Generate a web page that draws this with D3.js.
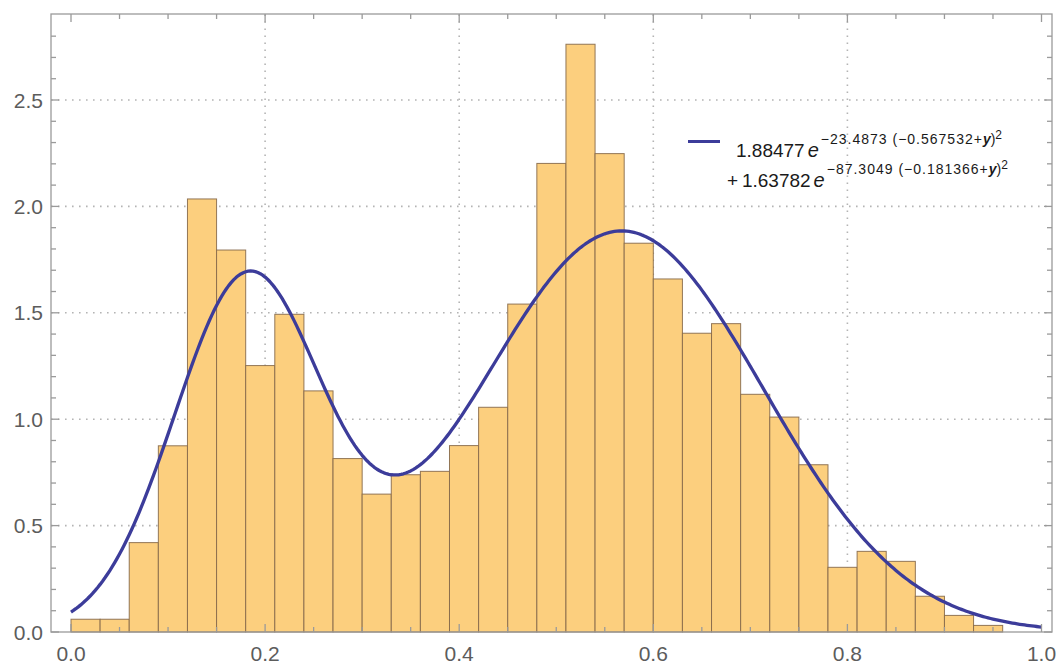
<!DOCTYPE html>
<html>
<head>
<meta charset="utf-8">
<script src="https://cdn.jsdelivr.net/npm/d3@7"></script>
<style>
  html, body { margin: 0; padding: 0; background: #fff; }
  svg { display: block; }
  text { font-family: "Liberation Sans", Arial, sans-serif; }
</style>
</head>
<body>
<svg id="chart" width="1062" height="669"></svg>
<script>
// Histogram bins (width 0.03, starting at 0) and their density heights
const binStart = 0;
const binWidth = 0.03;
const densities = [
  0.06, 0.06, 0.42, 0.875, 2.035, 1.795, 1.252, 1.493, 1.133, 0.815,
  0.648, 0.739, 0.755, 0.876, 1.056, 1.541, 2.202, 2.762, 2.248, 1.827,
  1.659, 1.404, 1.449, 1.117, 1.010, 0.786, 0.304, 0.379, 0.332, 0.168,
  0.078, 0.031
];

// Two-Gaussian fit: amplitude * exp(-rate * (y - center)^2)
const fitAmplitudes = [1.88477, 1.63782];
const fitRates = [23.4873, 87.3049];
const fitCenters = [0.567532, 0.181366];

// Axis ticks
const xMajorTicks = [0, 0.2, 0.4, 0.6, 0.8, 1.0];
const xTickLabels = ["0.0", "0.2", "0.4", "0.6", "0.8", "1.0"];
const yMajorTicks = [0, 0.5, 1.0, 1.5, 2.0, 2.5];
const yTickLabels = ["0.0", "0.5", "1.0", "1.5", "2.0", "2.5"];
const xGrid = [0.2, 0.4, 0.6, 0.8];
const yGrid = [0.5, 1.0, 1.5, 2.0, 2.5];

const svg = d3.select("#chart");

const frame = { left: 51, right: 1052, top: 14, bottom: 632 };
const x = d3.scaleLinear().domain([0, 1]).range([71, 1041.5]);
const y = d3.scaleLinear().domain([0, 2.5]).range([632, 100]);

const axisColor = "#9a9a9a";
const labelColor = "#5c5c5c";
const curveColor = "#3c3c9a";

// dotted grid, behind the bars
const grid = svg.append("g")
  .attr("stroke", "#b4b4b4")
  .attr("stroke-width", 1.6)
  .attr("stroke-dasharray", "1.6,5.4")
  .attr("stroke-linecap", "butt");
grid.selectAll("line.gx").data(xGrid).join("line")
  .attr("x1", d => x(d)).attr("x2", d => x(d))
  .attr("y1", frame.bottom).attr("y2", frame.top);
grid.selectAll("line.gy").data(yGrid).join("line")
  .attr("x1", frame.left).attr("x2", frame.right)
  .attr("y1", d => y(d)).attr("y2", d => y(d));

// histogram bars
const bins = densities.map((v, i) => ({
  x0: binStart + i * binWidth,
  x1: binStart + (i + 1) * binWidth,
  v
}));
svg.append("g").selectAll("rect").data(bins).join("rect")
  .attr("x", d => x(d.x0))
  .attr("width", d => x(d.x1) - x(d.x0))
  .attr("y", d => y(d.v))
  .attr("height", d => y(0) - y(d.v))
  .attr("fill", "#fccf7e")
  .attr("stroke", "#86694a")
  .attr("stroke-opacity", 0.9)
  .attr("stroke-width", 1);

// fitted curve
const fit = t => fitAmplitudes.reduce(
  (s, a, k) => s + a * Math.exp(-fitRates[k] * (t - fitCenters[k]) ** 2), 0);
const samples = d3.range(0, 1.0001, 0.0025);
const line = d3.line().x(d => x(d)).y(d => y(fit(d)));
svg.append("path")
  .datum(samples)
  .attr("d", line)
  .attr("fill", "none")
  .attr("stroke", curveColor)
  .attr("stroke-width", 3.3)
  .attr("stroke-linejoin", "round");

// frame
svg.append("rect")
  .attr("x", frame.left).attr("y", frame.top)
  .attr("width", frame.right - frame.left)
  .attr("height", frame.bottom - frame.top)
  .attr("fill", "none")
  .attr("stroke", axisColor)
  .attr("stroke-width", 1.3);

// ticks on all four sides, pointing inward
const xMinor = d3.range(0, 1.0001, 0.05).filter(v => !xMajorTicks.some(m => Math.abs(m - v) < 1e-9));
const yMinor = d3.range(0, 2.9, 0.1).filter(v => !yMajorTicks.some(m => Math.abs(m - v) < 1e-9));
const tickG = svg.append("g").attr("stroke", axisColor).attr("stroke-width", 1.3);
const majLen = 8, minLen = 5;
function xTicks(vals, len) {
  tickG.selectAll(null).data(vals).join("line")
    .attr("x1", d => x(d)).attr("x2", d => x(d))
    .attr("y1", frame.bottom).attr("y2", frame.bottom - len);
  tickG.selectAll(null).data(vals).join("line")
    .attr("x1", d => x(d)).attr("x2", d => x(d))
    .attr("y1", frame.top).attr("y2", frame.top + len);
}
function yTicks(vals, len) {
  tickG.selectAll(null).data(vals).join("line")
    .attr("x1", frame.left).attr("x2", frame.left + len)
    .attr("y1", d => y(d)).attr("y2", d => y(d));
  tickG.selectAll(null).data(vals).join("line")
    .attr("x1", frame.right).attr("x2", frame.right - len)
    .attr("y1", d => y(d)).attr("y2", d => y(d));
}
xTicks(xMajorTicks, majLen);
xTicks(xMinor, minLen);
yTicks(yMajorTicks, majLen);
yTicks(yMinor, minLen);

// tick labels
svg.append("g").selectAll("text").data(xMajorTicks).join("text")
  .attr("x", d => x(d))
  .attr("y", 661)
  .attr("text-anchor", "middle")
  .attr("font-size", 21)
  .attr("fill", labelColor)
  .text((d, i) => xTickLabels[i]);
svg.append("g").selectAll("text").data(yMajorTicks).join("text")
  .attr("x", 43)
  .attr("y", d => y(d) + 7.5)
  .attr("text-anchor", "end")
  .attr("font-size", 21)
  .attr("fill", labelColor)
  .text((d, i) => yTickLabels[i]);

// legend: swatch plus the fitted expression on two lines
const legend = svg.append("g");
legend.append("line")
  .attr("x1", 688).attr("x2", 720)
  .attr("y1", 141.5).attr("y2", 141.5)
  .attr("stroke", curveColor).attr("stroke-width", 3);

function fitTerm(g, xPos, yPos, lead, amp, rate, center) {
  const t = g.append("text").attr("x", xPos).attr("y", yPos)
    .attr("fill", "#1a1a1a").attr("font-size", 19);
  if (lead) t.append("tspan").text(lead + "\u2009");
  t.append("tspan").text(amp);
  t.append("tspan").attr("dx", 3).attr("font-size", 20)
    .attr("font-style", "italic").text("e");
  t.append("tspan").attr("dx", 2).attr("dy", -13).attr("font-size", 14)
    .attr("letter-spacing", 1.0)
    .text("\u2212" + rate + " (\u2212" + center + "+");
  t.append("tspan").attr("font-size", 14).attr("font-weight", "bold")
    .attr("font-style", "italic").text("y");
  t.append("tspan").attr("font-size", 14).text(")");
  t.append("tspan").attr("dy", -5).attr("font-size", 12).text("2");
}
fitTerm(legend, 736, 157, "", fitAmplitudes[0], fitRates[0], fitCenters[0]);
fitTerm(legend, 727, 187, "+", fitAmplitudes[1], fitRates[1], fitCenters[1]);
</script>
</body>
</html>
